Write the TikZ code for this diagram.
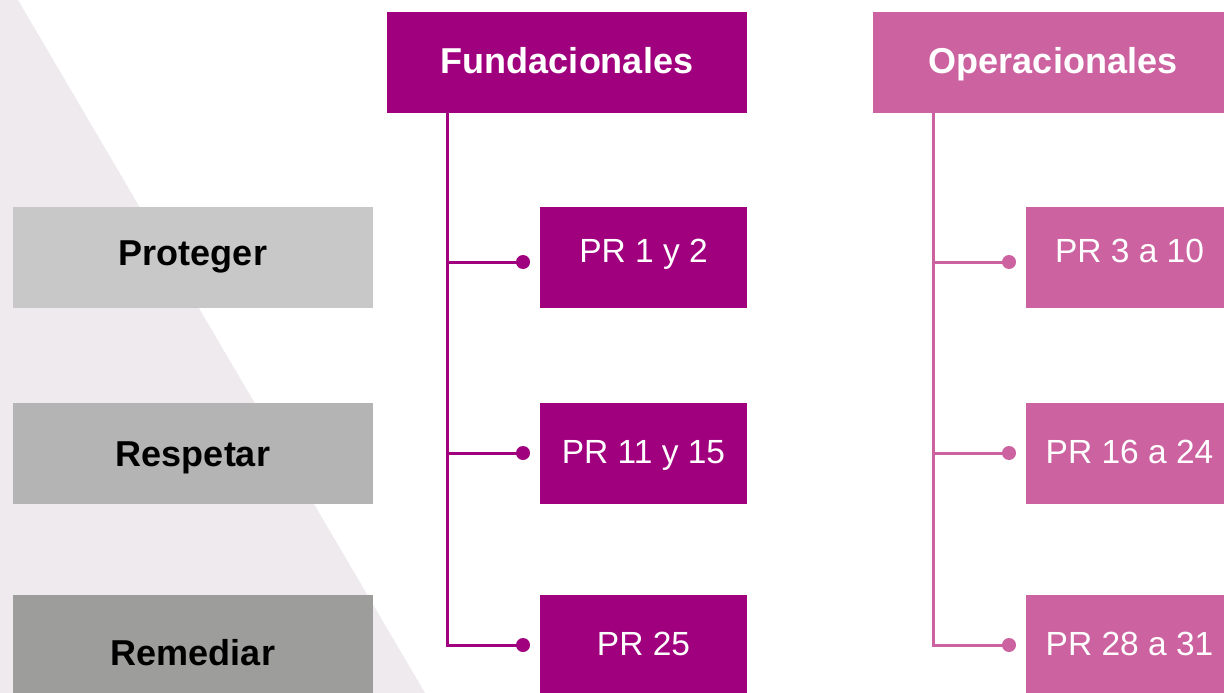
\documentclass[tikz,border=0pt]{standalone}
\usepackage{fontspec}
\setmainfont{Liberation Sans}
\usetikzlibrary{calc}
\definecolor{fund}{HTML}{A0007E}
\definecolor{oper}{HTML}{CC62A0}
\definecolor{tri}{HTML}{EEEAEE}
\definecolor{gA}{HTML}{C8C8C8}
\definecolor{gB}{HTML}{B4B4B4}
\definecolor{gC}{HTML}{9D9D9B}
\tikzset{
  box/.style={rectangle, inner sep=0pt, outer sep=0pt, minimum width=#1, text=white},
  head/.style={box=360pt, minimum height=101pt, text height=26pt, text depth=3.6pt,
    font=\fontsize{36}{40}\selectfont\bfseries},
  sub/.style={box=207pt, minimum height=101pt, text height=24pt, text depth=15pt,
    font=\fontsize{33.5}{38}\selectfont},
  lvl/.style={box=360pt, minimum height=101pt, text=black, text height=26pt, text depth=10.4pt,
    font=\fontsize{36}{40}\selectfont\bfseries},
  rowtwo/.style={text depth=#1},
  conn/.style={line width=3pt},
  dotc/.style={circle, inner sep=0pt, minimum size=14pt},
}
\begin{document}
\begin{tikzpicture}[x=1pt,y=-1pt]
\useasboundingbox (0,0) rectangle (1224,693);
\clip (0,0) rectangle (1224,693);
\fill[tri] (0,0) -- (18,0) -- (425,693) -- (0,693) -- cycle;
% level boxes
\node[lvl, fill=gA] (prot) at (193,257.5) {Proteger};
\node[lvl, fill=gB, rowtwo=0.4pt] (resp) at (193,453.5) {Respetar};
\node[lvl, fill=gC, minimum height=124pt, rowtwo=10pt] (reme) at (193,657) {Remediar};
% headers
\node[head, fill=fund] (fun) at (567,62.5) {Fundacionales};
\node[head, fill=oper] (ope) at (1053,62.5) {Operacionales};
% fundacionales sub boxes
\node[sub, fill=fund] (f1) at (643.5,257.5) {PR 1 y 2};
\node[sub, fill=fund, rowtwo=3.6pt] (f2) at (643.5,453.5) {PR 11 y 15};
\node[sub, fill=fund, minimum height=109pt, rowtwo=13pt] (f3) at (643.5,649.5) {PR 25};
% operacionales sub boxes
\node[sub, fill=oper] (o1) at (1129.5,257.5) {PR 3 a 10};
\node[sub, fill=oper, rowtwo=3.6pt] (o2) at (1129.5,453.5) {PR 16 a 24};
\node[sub, fill=oper, minimum height=109pt, rowtwo=13pt] (o3) at (1129.5,649.5) {PR 28 a 31};
% connector coordinates
\coordinate (ft) at ($(fun.south west)+(60,0)$);
\coordinate (ot) at ($(ope.south west)+(60,0)$);
\node[dotc, fill=fund] (fd1) at (523,262) {};
\node[dotc, fill=fund] (fd2) at (523,453) {};
\node[dotc, fill=fund] (fd3) at (523,645) {};
\node[dotc, fill=oper] (od1) at (1009,262) {};
\node[dotc, fill=oper] (od2) at (1009,453) {};
\node[dotc, fill=oper] (od3) at (1009,645) {};
\draw[conn, fund] (ft) |- (fd3.center);
\draw[conn, fund] (ft |- fd1) -- (fd1.center);
\draw[conn, fund] (ft |- fd2) -- (fd2.center);
\draw[conn, oper] (ot) |- (od3.center);
\draw[conn, oper] (ot |- od1) -- (od1.center);
\draw[conn, oper] (ot |- od2) -- (od2.center);
\end{tikzpicture}
\end{document}
